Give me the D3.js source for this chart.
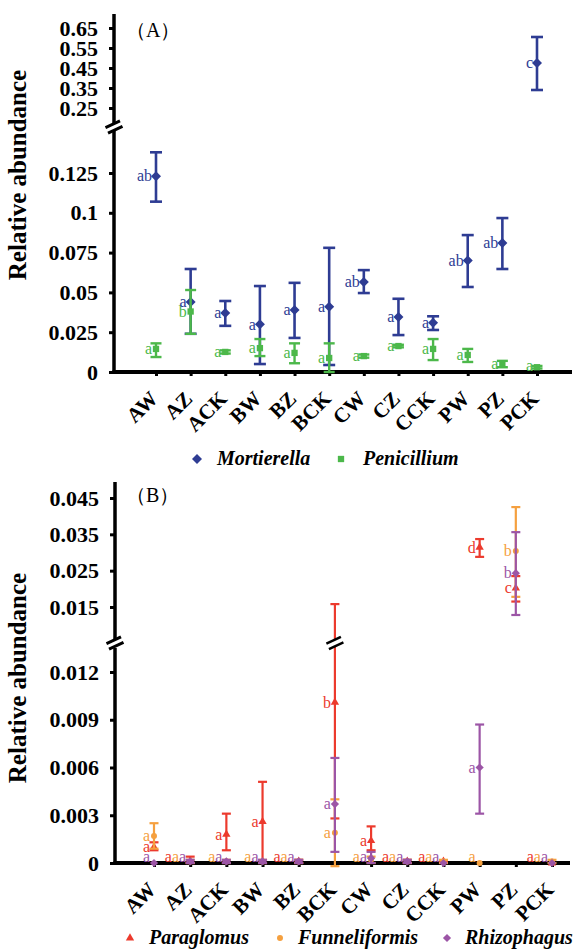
<!DOCTYPE html>
<html><head><meta charset="utf-8">
<script src="https://cdn.jsdelivr.net/npm/d3@7"></script>
<style>
body{margin:0;background:#fff;}
svg{display:block;}
</style></head>
<body>
<svg id="chart" width="574" height="949"></svg>
<script>
// ---------- DATA ----------
const categories = ["AW","AZ","ACK","BW","BZ","BCK","CW","CZ","CCK","PW","PZ","PCK"];

// Panel A
const mortMean = [0.123,0.044,0.037,0.030,0.039,0.041,0.0565,0.0345,0.031,0.070,0.081,0.475];
const mortLo   = [0.107,0.024,0.029,0.005,0.0214,0.0044,0.0496,0.0232,0.0264,0.0534,0.0647,0.34];
const mortHi   = [0.138,0.0647,0.0446,0.054,0.056,0.078,0.064,0.046,0.035,0.086,0.0967,0.605];
const mortSig  = ["ab","a","a","a","a","a","ab","a","a","ab","ab","c"];
const peniMean = [0.0145,0.038,0.0126,0.015,0.012,0.0088,0.010,0.0163,0.0145,0.0107,0.005,0.003];
const peniLo   = [0.0094,0.024,0.0116,0.010,0.0055,0.0,0.009,0.0155,0.0075,0.0063,0.003,0.0022];
const peniHi   = [0.018,0.0515,0.0136,0.0207,0.018,0.018,0.011,0.0171,0.0207,0.0145,0.007,0.0038];
const peniSig  = ["a","b","a","a","a","a","a","a","a","a","a","a"];
const ticksAUpper = [0.25,0.35,0.45,0.55,0.65];
const ticksALower = [0,0.025,0.05,0.075,0.1,0.125];

// Panel B
const paraMean = [0.0010,0.0001,0.0018,0.0026,0.0001,0.0101,0.0014,0.0001,0.0001,0.0314,0.0202,0.0];
const paraLo   = [0.0008,0.0,0.0008,0.0,0.0,0.0028,0.0008,0.0,0.0,0.0288,0.0165,0.0];
const paraHi   = [0.0013,0.0004,0.0031,0.0051,0.0002,0.0158,0.0023,0.0002,0.0001,0.0337,0.0235,0.0];
const paraSig  = ["a","a","a","a","a","b","a","a","a","d","c","a"];
const funnMean = [0.0017,0.0001,0.0001,0.0001,0.0001,0.0019,0.0002,0.0001,0.0001,0.0,0.0304,0.0001];
const funnLo   = [0.0009,0.0,0.0,0.0,0.0,-0.0002,0.0,0.0,0.0,0.0,0.0178,0.0];
const funnHi   = [0.0025,0.0002,0.0002,0.0002,0.0002,0.0040,0.0004,0.0002,0.0002,0.0,0.0425,0.0002];
const funnSig  = ["a","a","a","a","a","a","a","a","a","a","b","a"];
const rhizMean = [0.0,0.0001,0.0001,0.0001,0.0001,0.0037,0.0003,0.0001,0.0,0.0060,0.0243,0.0];
const rhizLo   = [0.0,0.0,0.0,0.0,0.0,0.0007,0.0,0.0,0.0,0.0031,0.0128,0.0];
const rhizHi   = [0.0,0.0002,0.0002,0.0002,0.0002,0.0066,0.0007,0.0002,0.0,0.0087,0.0356,0.0];
const rhizSig  = ["a","a","a","a","a","a","a","a","a","a","b","a"];
const ticksBUpper = [0.015,0.025,0.035,0.045];
const ticksBLower = [0,0.003,0.006,0.009,0.012];

// ---------- DRAWING ----------
const svg = d3.select("#chart");
const SERIF = "'Liberation Serif','Times New Roman',serif";

function panel(cfg){
  const g = svg.append("g");
  const x = d3.scalePoint().domain(categories).range(cfg.xRange);
  const yU = d3.scaleLinear().domain(cfg.upperDomain).range(cfg.upperRange);
  const yL = d3.scaleLinear().domain(cfg.lowerDomain).range(cfg.lowerRange);
  const y = v => v > cfg.breakValue ? yU(v) : yL(v);
  const ax = cfg.axisX, base = cfg.lowerRange[0];

  // y axis segments
  const axU = d3.axisLeft(yU).tickValues(cfg.ticksUpper).tickSize(5).tickFormat(d=>String(+d.toFixed(4)));
  const axL = d3.axisLeft(yL).tickValues(cfg.ticksLower).tickSize(5).tickFormat(d=>String(+d.toFixed(4)));
  [[axU,cfg.upperSeg],[axL,cfg.lowerSeg]].forEach(([a,seg])=>{
    const ga = g.append("g").attr("transform",`translate(${ax},0)`).call(a);
    ga.select(".domain").remove();
    ga.selectAll(".tick line").attr("stroke","#000").attr("stroke-width",3);
    ga.selectAll(".tick text").attr("x",-16).attr("font-family",SERIF).attr("font-weight","bold")
      .attr("font-size",cfg.tickFont).attr("fill","#000");
    g.append("line").attr("x1",ax).attr("x2",ax).attr("y1",seg[0]).attr("y2",seg[1])
      .attr("stroke","#000").attr("stroke-width",3.5);
  });
  // break mark on axis
  drawBreak(g, ax, cfg.breakY, "#000", 3);

  // x axis
  const gx = g.append("g").attr("transform",`translate(0,${base})`)
    .call(d3.axisBottom(x).tickSize(4).tickFormat(""));
  gx.select(".domain").remove();
  gx.selectAll(".tick line").attr("stroke","#000").attr("stroke-width",3);
  g.append("line").attr("x1",ax-1.5).attr("x2",cfg.xEnd).attr("y1",base).attr("y2",base)
    .attr("stroke","#000").attr("stroke-width",4);
  categories.forEach(c=>{
    g.append("text").attr("transform",`translate(${x(c)+cfg.xlabDx},${base+cfg.xlabDy}) rotate(-45)`)
      .attr("text-anchor","end").attr("font-family",SERIF).attr("font-weight","bold")
      .attr("font-size",cfg.xFont).attr("fill","#000").text(c);
  });

  // y title
  g.append("text").attr("transform",`translate(${cfg.titleX},${cfg.titleY}) rotate(-90)`)
    .attr("text-anchor","middle").attr("font-family",SERIF).attr("font-weight","bold")
    .attr("font-size",cfg.titleFont).attr("fill","#000").text("Relative abundance");
  // panel tag
  g.append("text").attr("x",cfg.tagX).attr("y",cfg.tagY).attr("font-family",SERIF)
    .attr("font-size",20).attr("fill","#000").text(cfg.tag);

  // series
  const placed = categories.map(()=>[]);
  cfg.series.forEach(s=>{
    categories.forEach((c,i)=>{
      const cx = x(c);
      const lo = s.lo[i], hi = s.hi[i];
      const y1 = y(lo), y2 = y(hi);
      if (Math.abs(y1-y2) > 0.5){
        g.append("line").attr("x1",cx).attr("x2",cx).attr("y1",y1).attr("y2",y2)
          .attr("stroke",s.color).attr("stroke-width",s.ew);
        [y1,y2].forEach(yy=>g.append("line").attr("x1",cx-s.cap/2).attr("x2",cx+s.cap/2)
          .attr("y1",yy).attr("y2",yy).attr("stroke",s.color).attr("stroke-width",s.ew));
        if (lo <= cfg.breakValue && hi > cfg.breakValue) drawBreak(g, cx, cfg.breakY, "#000", 2.5);
      }
      g.append("path").attr("transform",`translate(${cx},${y(s.mean[i])})${s.rot||""}`)
        .attr("d",d3.symbol().type(s.symbol).size(s.size)()).attr("fill",s.color);
    });
  });
  // significance labels (right-most series first, shifted left on collision)
  [...cfg.series].reverse().forEach(s=>{
    categories.forEach((c,i)=>{
      let ly = Math.min(y(s.mean[i]), base-6);
      let right = x(c) - 4;
      const t = g.append("text").attr("font-family",SERIF).attr("font-size",cfg.sigFont)
        .attr("fill",s.color).attr("text-anchor","end").attr("dy","0.33em").text(s.sig[i]);
      const w = t.node().getComputedTextLength();
      let moved = true;
      while(moved){
        moved = false;
        for (const p of placed[i]){
          if (Math.abs(p.y-ly) < 6 && right > p.l && right - w < p.r){ right = p.l; moved = true; }
        }
      }
      t.attr("x",right).attr("y",ly);
      placed[i].push({y:ly,l:right-w,r:right});
    });
  });

  // legend
  cfg.legend.forEach(l=>{
    const s = cfg.series[l.idx];
    g.append("path").attr("transform",`translate(${l.mx},${cfg.legendY-6})${s.rot||""}`)
      .attr("d",d3.symbol().type(s.symbol).size(s.size)()).attr("fill",s.color);
    g.append("text").attr("x",l.tx).attr("y",cfg.legendY).attr("font-family",SERIF)
      .attr("font-weight","bold").attr("font-style","italic").attr("font-size",cfg.legFont)
      .attr("fill","#000").text(s.name);
  });
}

function drawBreak(g, cx, cy, color, sw){
  g.append("rect").attr("x",cx-7).attr("y",cy-3).attr("width",14).attr("height",6)
    .attr("fill","#fff").attr("transform",`rotate(-25,${cx},${cy})`);
  [-3,3].forEach(d=>{
    g.append("line").attr("x1",cx-8).attr("x2",cx+8).attr("y1",cy+d).attr("y2",cy+d)
      .attr("stroke",color).attr("stroke-width",sw).attr("transform",`rotate(-25,${cx},${cy})`);
  });
}

panel({
  tag:"（A）", tagX:126, tagY:37,
  xRange:[156,537], axisX:114, xEnd:572,
  upperDomain:[0.25,0.65], upperRange:[108,28],
  lowerDomain:[0,0.125], lowerRange:[372,173],
  breakValue:0.17, breakY:127,
  upperSeg:[14,123], lowerSeg:[131,372],
  ticksUpper:ticksAUpper, ticksLower:ticksALower,
  tickFont:22, xFont:21, titleFont:25, sigFont:16, legFont:20,
  xlabDx:3, xlabDy:28,
  titleX:26, titleY:175,
  legendY:465,
  series:[
    {name:"Mortierella", mean:mortMean, lo:mortLo, hi:mortHi, sig:mortSig, color:"#2e3c93",
     symbol:d3.symbolSquare, size:50, rot:" rotate(45)", ew:2.6, cap:12},
    {name:"Penicillium", mean:peniMean, lo:peniLo, hi:peniHi, sig:peniSig, color:"#4cb84a",
     symbol:d3.symbolSquare, size:40, ew:2.4, cap:11}
  ],
  legend:[{idx:0,mx:197,tx:217},{idx:1,mx:341,tx:363}]
});

panel({
  tag:"（B）", tagX:126, tagY:502,
  xRange:[154,552], axisX:115, xEnd:570,
  upperDomain:[0.015,0.045], upperRange:[607,498],
  lowerDomain:[0,0.012], lowerRange:[863,672],
  breakValue:0.0125, breakY:643,
  upperSeg:[482,639], lowerSeg:[648,863],
  ticksUpper:ticksBUpper, ticksLower:ticksBLower,
  tickFont:22, xFont:21, titleFont:25, sigFont:16, legFont:20,
  xlabDx:3, xlabDy:28,
  titleX:26, titleY:678,
  legendY:944,
  series:[
    {name:"Paraglomus", mean:paraMean, lo:paraLo, hi:paraHi, sig:paraSig, color:"#ec3a2d",
     symbol:d3.symbolTriangle, size:30, ew:2.2, cap:9},
    {name:"Funneliformis", mean:funnMean, lo:funnLo, hi:funnHi, sig:funnSig, color:"#f5a03f",
     symbol:d3.symbolCircle, size:28, ew:2.2, cap:9},
    {name:"Rhizophagus", mean:rhizMean, lo:rhizLo, hi:rhizHi, sig:rhizSig, color:"#9c55a6",
     symbol:d3.symbolSquare, size:34, rot:" rotate(45)", ew:2.2, cap:9}
  ],
  legend:[{idx:0,mx:130,tx:149},{idx:1,mx:280,tx:298},{idx:2,mx:447,tx:465}]
});
</script>
</body></html>
